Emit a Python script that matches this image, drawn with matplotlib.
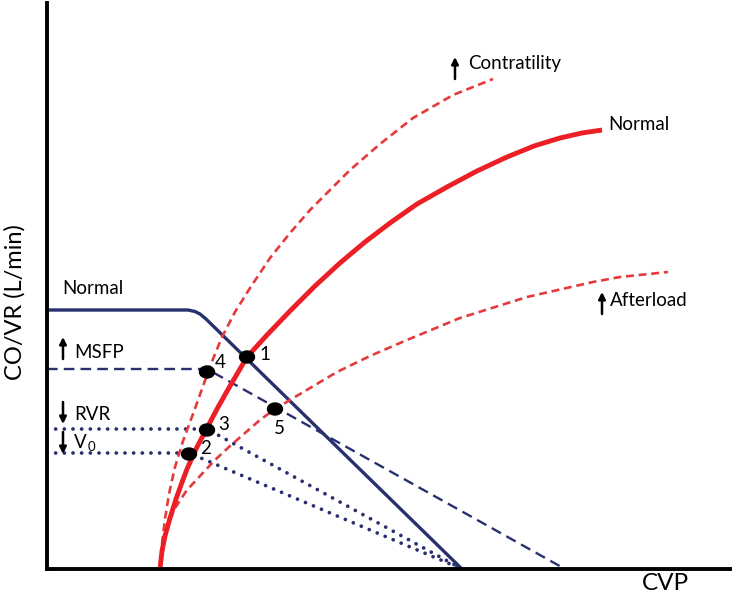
import matplotlib
matplotlib.use('Agg')
import matplotlib.pyplot as plt
from matplotlib.patches import Ellipse

plt.rcParams['font.family'] = ['Lato', 'DejaVu Sans']

RED = '#ec1f26'
RED_D = '#e53a3c'
NAVY = '#28306e'

# cardiac output curves (x = CVP, y = CO), schematic units
co_norm_x = [113, 115, 118, 123, 129, 134, 140, 150, 160, 170, 183, 200, 220, 243, 268,
             293, 318, 343, 370, 400, 430, 460, 487, 513, 535, 555]
co_norm_y = [0, 18, 33, 51, 70, 84, 100, 122, 141, 160, 183, 212, 234, 258, 283,
             306, 327, 346, 365, 382, 398, 412, 423, 431, 436, 439]

co_contr_x = [113, 115, 118, 122, 128, 136, 146, 155, 160, 166, 175, 188, 203, 223, 243,
              263, 283, 303, 333, 366, 406, 446]
co_contr_y = [0, 25, 50, 75, 102, 128, 155, 180, 194, 210, 232, 257, 281, 311, 336,
              359, 379, 399, 425, 451, 474, 490]

co_after_x = [113, 116, 120, 128, 140, 153, 168, 183, 213, 228, 253, 290, 323, 360, 413,
              480, 546, 573, 621]
co_after_y = [0, 19, 42, 61, 79, 93, 109, 123, 149, 160, 175, 197, 213, 229, 251,
              272, 287, 292, 297]

# venous return curves
vr_norm_x = [0, 141, 148, 153, 159, 415]
vr_norm_y = [259, 259, 257.5, 255, 250, 0]
vr_msfp_x = [0, 160, 518]
vr_msfp_y = [200, 200, 0]
vr_rvr_x = [0, 160, 415]
vr_rvr_y = [140, 140, 0]
vr_v0_x = [0, 142, 415]
vr_v0_y = [116, 116, 0]

# equilibrium points
pt_x = [200, 142, 160, 160, 228]
pt_y = [212, 115, 139, 197, 160]
pt_lab = ['1', '2', '3', '4', '5']
lab_x = [218, 159, 177, 173, 232]
lab_y = [214, 121, 145, 206, 141]

fig = plt.figure(figsize=(7.33, 6.04), dpi=100)
ax = fig.add_axes([47 / 733, 35 / 604, 683 / 733, 566 / 604])
ax.set_xlim(0, 683)
ax.set_ylim(0, 566)
for s in ['top', 'right']:
    ax.spines[s].set_visible(False)
for s in ['left', 'bottom']:
    ax.spines[s].set_linewidth(2.8)
    ax.spines[s].set_color('black')
ax.set_xticks([])
ax.set_yticks([])

# venous return
ax.plot(vr_norm_x, vr_norm_y, color=NAVY, lw=2.4, solid_joinstyle='round')
ax.plot(vr_msfp_x, vr_msfp_y, color=NAVY, lw=1.7, linestyle=(0, (4.5, 2.6)))
ax.plot(vr_rvr_x, vr_rvr_y, color=NAVY, lw=2.7, linestyle=(0, (0.01, 2.3)),
        dash_capstyle='round')
ax.plot(vr_v0_x, vr_v0_y, color=NAVY, lw=2.7, linestyle=(0, (0.01, 2.3)),
        dash_capstyle='round')

# cardiac output
ax.plot(co_contr_x, co_contr_y, color=RED_D, lw=1.9, linestyle=(0, (3, 1.8)))
ax.plot(co_after_x, co_after_y, color=RED_D, lw=1.9, linestyle=(0, (3, 1.8)))
ax.plot(co_norm_x, co_norm_y, color=RED, lw=3.5, solid_capstyle='butt')

for x, y in zip(pt_x, pt_y):
    ax.add_patch(Ellipse((x, y), 15, 12, color='black', zorder=5))
for t, x, y in zip(pt_lab, lab_x, lab_y):
    ax.text(x, y, t, fontsize=13.5, ha='center', va='center')

fs = 13.5
ax.text(15, 280, 'Normal', fontsize=fs, va='center')
ax.text(27, 216, 'MSFP', fontsize=fs, va='center')
ax.text(27, 155, 'RVR', fontsize=fs, va='center')
ax.text(27, 126, 'V', fontsize=fs, va='center')
ax.text(40.5, 122, '0', fontsize=9.5, va='center')
ax.text(421, 506, 'Contratility', fontsize=fs, va='center')
ax.text(561, 444, 'Normal', fontsize=fs, va='center')
ax.text(563, 269, 'Afterload', fontsize=fs, va='center')

arrows = [(16, 210, 232), (16, 167, 145), (16, 137, 115), (408, 490, 512), (555, 255, 277)]
for x, y0, y1 in arrows:
    ax.annotate('', xy=(x, y1), xytext=(x, y0),
                arrowprops=dict(arrowstyle='-|>', color='black', lw=1.8,
                                mutation_scale=10, shrinkA=0, shrinkB=0))

fig.text(665 / 733, 1 - 583 / 604, 'CVP', fontsize=17.5, ha='center', va='center')
fig.text(15 / 733, 1 - 302 / 604, 'CO/VR (L/min)', fontsize=17, ha='center',
         va='center', rotation=90)

fig.savefig('out.png', dpi=100)
